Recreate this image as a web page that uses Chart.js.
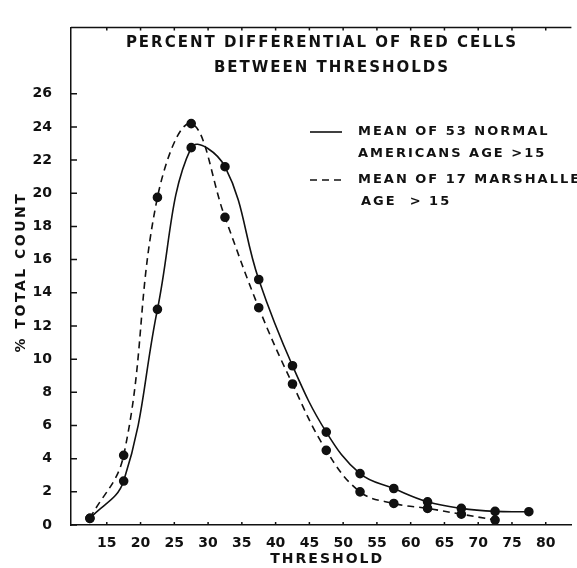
<!DOCTYPE html>
<html>
<head>
<meta charset="utf-8">
<script src="https://cdn.jsdelivr.net/npm/chart.js@4.4.1/dist/chart.umd.min.js"></script>
<style>
  html, body { margin: 0; padding: 0; background: #fff; overflow: hidden; }
  #wrap { width: 577px; height: 568px; }
</style>
</head>
<body>
<div id="wrap"><canvas id="grafico" width="577" height="568"></canvas></div>
<script>
// datos (umbral = punto medio de cada intervalo)
const umbrales = [12.5, 17.5, 22.5, 27.5, 32.5, 37.5, 42.5, 47.5, 52.5, 57.5, 62.5, 67.5, 72.5, 77.5];
const americanos = [0.4, 2.65, 13.0, 22.75, 21.6, 14.8, 9.6, 5.6, 3.1, 2.2, 1.4, 1.0, 0.82, 0.8];
const marshaleses = [0.4, 4.2, 19.75, 24.2, 18.55, 13.1, 8.5, 4.5, 2.0, 1.3, 1.0, 0.65, 0.3];

const ticksX = [15, 20, 25, 30, 35, 40, 45, 50, 55, 60, 65, 70, 75, 80];
const ticksY = [0, 2, 4, 6, 8, 10, 12, 14, 16, 18, 20, 22, 24, 26];

const titulo = ['PERCENT DIFFERENTIAL OF RED CELLS', 'BETWEEN THRESHOLDS'];
const tituloX = 'THRESHOLD';
const tituloY = '% TOTAL COUNT';
const leyenda = [
  ['MEAN OF 53 NORMAL', 'AMERICANS AGE >15'],
  ['MEAN OF 17 MARSHALLESE', 'AGE  > 15']
];

const tinta = '#111';
const fuente = '"DejaVu Sans", sans-serif';

function puntos(xs, ys) {
  return ys.map((y, i) => ({ x: xs[i], y: y }));
}

// marcas hacia adentro, marco superior, titulos y leyenda
const decoracion = {
  id: 'decoracion',
  afterDraw(chart) {
    const ctx = chart.ctx;
    const a = chart.chartArea;
    const sx = chart.scales.x, sy = chart.scales.y;
    ctx.save();
    ctx.strokeStyle = tinta;
    ctx.lineWidth = 1.5;
    ctx.beginPath();
    ctx.moveTo(a.left, a.top);
    ctx.lineTo(a.right, a.top);
    ticksY.forEach(v => {
      const y = sy.getPixelForValue(v);
      ctx.moveTo(a.left, y);
      ctx.lineTo(a.left + 6, y);
    });
    ticksX.forEach(v => {
      const x = sx.getPixelForValue(v);
      ctx.moveTo(x, a.bottom);
      ctx.lineTo(x, a.bottom - 3);
      ctx.moveTo(x, a.top);
      ctx.lineTo(x, a.top + 3);
    });
    ctx.stroke();

    ctx.fillStyle = tinta;
    ctx.textBaseline = 'middle';
    ctx.textAlign = 'center';
    ctx.font = 'bold 15px ' + fuente;
    ctx.letterSpacing = '2px';
    ctx.fillText(titulo[0], 322, 43);
    ctx.fillText(titulo[1], 332, 68);

    ctx.font = 'bold 14px ' + fuente;
    ctx.letterSpacing = '2px';
    ctx.fillText(tituloX, (a.left + a.right) / 2 + 6, 559);

    ctx.save();
    ctx.translate(21, 272);
    ctx.rotate(-Math.PI / 2);
    ctx.letterSpacing = '2.5px';
    ctx.fillText(tituloY, 0, 0);
    ctx.restore();

    // leyenda
    ctx.textAlign = 'left';
    ctx.font = 'bold 13px ' + fuente;
    ctx.letterSpacing = '2px';
    const filas = [132, 180];
    chart.data.datasets.forEach((ds, i) => {
      const y = filas[i];
      ctx.beginPath();
      ctx.setLineDash(ds.borderDash || []);
      ctx.lineWidth = ds.borderWidth;
      ctx.moveTo(310, y);
      ctx.lineTo(342, y);
      ctx.stroke();
      ctx.setLineDash([]);
      ctx.fillText(leyenda[i][0], 358, y);
      ctx.fillText(leyenda[i][1], i === 0 ? 358 : 361, y + 22);
    });
    ctx.restore();
  }
};

new Chart(document.getElementById('grafico'), {
  type: 'line',
  data: {
    datasets: [
      {
        label: 'Americans',
        data: puntos(umbrales, americanos),
        borderColor: tinta,
        backgroundColor: tinta,
        borderWidth: 1.6,
        pointRadius: 4,
        tension: 0.4,
        fill: false
      },
      {
        label: 'Marshallese',
        data: puntos(umbrales, marshaleses),
        borderColor: tinta,
        backgroundColor: tinta,
        borderWidth: 1.6,
        borderDash: [7, 5],
        pointRadius: 4,
        tension: 0.4,
        fill: false
      }
    ]
  },
  options: {
    responsive: false,
    animation: false,
    layout: { padding: { top: 15, right: 0, left: 0, bottom: 0 } },
    plugins: {
      legend: { display: false },
      tooltip: { enabled: false },
      title: { display: false }
    },
    scales: {
      x: {
        type: 'linear',
        min: 9.7,
        max: 83.8,
        afterBuildTicks: s => { s.ticks = ticksX.map(v => ({ value: v })); },
        afterFit: s => { s.height = 43; },
        grid: { display: false, drawTicks: false },
        border: { display: true, color: tinta, width: 1.5 },
        ticks: {
          color: tinta,
          padding: 10,
          maxRotation: 0,
          font: { family: fuente, size: 14, weight: 'bold' }
        }
      },
      y: {
        type: 'linear',
        min: 0,
        max: 30,
        afterBuildTicks: s => { s.ticks = ticksY.map(v => ({ value: v })); },
        afterFit: s => { s.width = 71; },
        grid: { display: false, drawTicks: false },
        border: { display: true, color: tinta, width: 1.5 },
        ticks: {
          color: tinta,
          padding: 19,
          font: { family: fuente, size: 14, weight: 'bold' }
        }
      }
    }
  },
  plugins: [decoracion]
});
</script>
</body>
</html>
